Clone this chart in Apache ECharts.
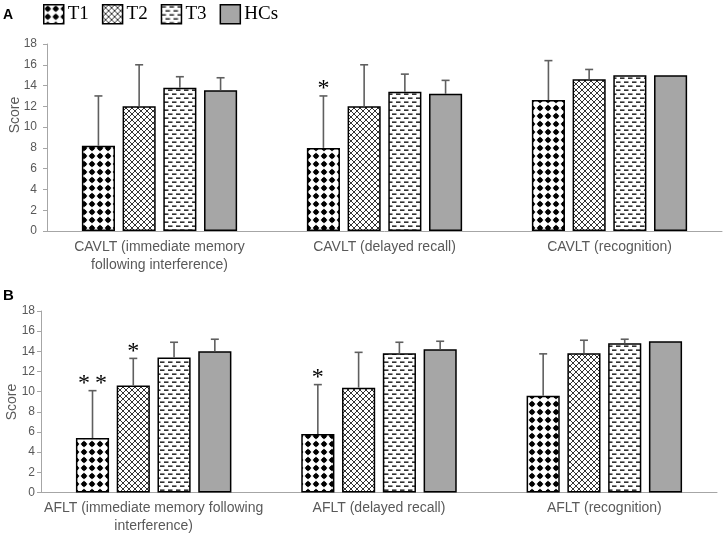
<!DOCTYPE html>
<html><head><meta charset="utf-8">
<script src="https://cdn.jsdelivr.net/npm/echarts@6/dist/echarts.min.js"></script>
<style>html,body{margin:0;padding:0;background:#fff}#c{width:725px;height:536px}</style>
</head><body><div id="c"></div>
<script>
// ---- data ----
const groupNames = ['T1', 'T2', 'T3', 'HCs'];
const catsA = ['CAVLT (immediate memory\nfollowing interference)', 'CAVLT (delayed recall)', 'CAVLT (recognition)'];
const catsB = ['AFLT (immediate memory following\ninterference)', 'AFLT (delayed recall)', 'AFLT (recognition)'];
const yTicks = [0, 2, 4, 6, 8, 10, 12, 14, 16, 18];

const A_T1 = [8.2, 8.0, 12.6];   const A_T1_sd = [4.8, 5.0, 3.8];
const A_T2 = [12.0, 12.0, 14.6]; const A_T2_sd = [4.0, 4.0, 0.95];
const A_T3 = [13.8, 13.4, 15.0]; const A_T3_sd = [1.05, 1.7, 0];
const A_HC = [13.55, 13.2, 15.0]; const A_HC_sd = [1.2, 1.3, 0];

const B_T1 = [5.4, 5.8, 9.6];    const B_T1_sd = [4.7, 4.9, 4.15];
const B_T2 = [10.6, 10.4, 13.8]; const B_T2_sd = [2.7, 3.5, 1.3];
const B_T3 = [13.4, 13.8, 14.8]; const B_T3_sd = [1.5, 1.1, 0.4];
const B_HC = [14.0, 14.2, 15.0]; const B_HC_sd = [1.2, 0.8, 0];

const starsA_T1 = ['', '*', ''];
const starsB_T1 = ['*\u2009*', '*', ''];
const starsB_T2 = ['*', '', ''];
const noStars = ['', '', ''];

// ---- patterns ----
function tile(w, h, draw) {
  const c = document.createElement('canvas'); c.width = w; c.height = h;
  const g = c.getContext('2d'); g.fillStyle = '#fff'; g.fillRect(0, 0, w, h); draw(g);
  return { image: c, repeat: 'repeat' };
}
const patT1 = tile(8, 8, g => {
  g.fillStyle = '#000';
  g.beginPath(); g.arc(4, 4, 2.5, 0, Math.PI * 2); g.fill();
  g.beginPath(); g.moveTo(4, 0.5); g.lineTo(6.2, 4); g.lineTo(4, 7.5); g.lineTo(1.8, 4); g.closePath(); g.fill();
  g.beginPath(); g.moveTo(0.5, 4); g.lineTo(4, 1.8); g.lineTo(7.5, 4); g.lineTo(4, 6.2); g.closePath(); g.fill();
});
const patT2 = tile(6, 6, g => {
  g.strokeStyle = '#000'; g.lineWidth = 0.8;
  g.beginPath(); g.moveTo(-1, -1); g.lineTo(7, 7); g.moveTo(7, -1); g.lineTo(-1, 7); g.stroke();
});
const patT3 = tile(8, 8, g => {
  g.fillStyle = '#000';
  g.fillRect(0, 1.5, 4.5, 1.3);
  g.fillRect(4, 5.5, 4, 1.3); g.fillRect(0, 5.5, 0.5, 1.3);
});
const fills = [patT1, patT2, patT3, '#a6a6a6'];

const CATGAP = 0.31, BARGAP = 0.23;
const font = 'Liberation Sans, Arial, sans-serif';

function errRender(k, stars) {
  return function (params, api) {
    const cat = api.value(0), v = api.value(1), sd = api.value(2);
    const band = api.size([1, 0])[0];
    const groupW = band * (1 - CATGAP);
    const bw = groupW / (4 + 3 * BARGAP);
    const cx = api.coord([cat, 0])[0] - groupW / 2 + bw / 2 + k * bw * (1 + BARGAP);
    const yBar = api.coord([cat, v])[1];
    const yTop = api.coord([cat, v + sd])[1];
    const ch = [];
    if (sd > 0.05) {
      ch.push({ type: 'line', shape: { x1: cx, y1: yBar, x2: cx, y2: yTop }, style: { stroke: '#5f5f5f', lineWidth: 1.6 } });
      ch.push({ type: 'line', shape: { x1: cx - 4, y1: yTop, x2: cx + 4, y2: yTop }, style: { stroke: '#5f5f5f', lineWidth: 1.6 } });
    }
    const s = stars[cat];
    if (s) {
      ch.push({ type: 'text', style: { text: s, x: cx, y: yTop - 7, align: 'center', verticalAlign: 'middle',
        font: '24px "Liberation Serif", serif', fill: '#000' } });
    }
    return { type: 'group', children: ch };
  };
}

function panel(gi, means, sds, stars) {
  const out = [];
  means.forEach((m, k) => {
    out.push({ type: 'bar', name: groupNames[k], xAxisIndex: gi, yAxisIndex: gi, data: m,
      barCategoryGap: (CATGAP * 100) + '%', barGap: (BARGAP * 100) + '%',
      itemStyle: { color: fills[k], borderColor: '#000', borderWidth: 1.5 }, z: 2 });
  });
  means.forEach((m, k) => {
    out.push({ type: 'custom', name: 'err' + gi + k, xAxisIndex: gi, yAxisIndex: gi, z: 5,
      data: m.map((v, i) => [i, v, sds[k][i]]), renderItem: errRender(k, stars[k]) });
  });
  return out;
}

function yAx(gi, margin) {
  return { type: 'value', gridIndex: gi, min: yTicks[0], max: yTicks[yTicks.length - 1], interval: 2,
    axisLine: { show: true, lineStyle: { color: '#a6a6a6', width: 1 } },
    axisTick: { show: true, length: 4, lineStyle: { color: '#a6a6a6' } },
    splitLine: { show: false },
    axisLabel: { margin: margin, color: '#595959', fontSize: 12, fontFamily: font } };
}
function xAx(gi, cats) {
  return { type: 'category', gridIndex: gi, data: cats,
    axisLine: { lineStyle: { color: '#a6a6a6', width: 1 } }, axisTick: { show: false },
    axisLabel: { interval: 0, margin: 7, color: '#595959', fontSize: 14, lineHeight: 18, fontFamily: font } };
}

const chart = echarts.init(document.getElementById('c'), null, { renderer: 'canvas' });
chart.setOption({
  animation: false,
  backgroundColor: '#fff',
  legend: { data: groupNames, left: 43, top: 4, padding: 0, itemWidth: 20, itemHeight: 19, itemGap: 13, icon: 'rect',
    selectedMode: false,
    textStyle: { fontFamily: '"Liberation Serif", serif', fontSize: 19, color: '#000', padding: [0, 0, 0, -1] },
    itemStyle: { borderColor: '#000', borderWidth: 1.5 } },
  grid: [
    { left: 47, right: 3, top: 44, height: 187 },
    { left: 41, right: 8, top: 311, height: 181.5 }
  ],
  xAxis: [xAx(0, catsA), xAx(1, catsB)],
  yAxis: [yAx(0, 10), yAx(1, 6)],
  graphic: [
    { type: 'text', left: 3, top: 8, style: { text: 'A', font: 'bold 14px "Liberation Sans", Arial', fill: '#000' } },
    { type: 'text', left: 3, top: 288, style: { text: 'B', font: 'bold 15px "Liberation Sans", Arial', fill: '#000' } },
    { type: 'text', x: 15, y: 115, rotation: Math.PI / 2, style: { text: 'Score', align: 'center', verticalAlign: 'middle', font: '14px "Liberation Sans", Arial', fill: '#595959' } },
    { type: 'text', x: 12, y: 402, rotation: Math.PI / 2, style: { text: 'Score', align: 'center', verticalAlign: 'middle', font: '14px "Liberation Sans", Arial', fill: '#595959' } }
  ],
  series: [].concat(
    panel(0, [A_T1, A_T2, A_T3, A_HC], [A_T1_sd, A_T2_sd, A_T3_sd, A_HC_sd], [starsA_T1, noStars, noStars, noStars]),
    panel(1, [B_T1, B_T2, B_T3, B_HC], [B_T1_sd, B_T2_sd, B_T3_sd, B_HC_sd], [starsB_T1, starsB_T2, noStars, noStars])
  )
});
</script></body></html>
